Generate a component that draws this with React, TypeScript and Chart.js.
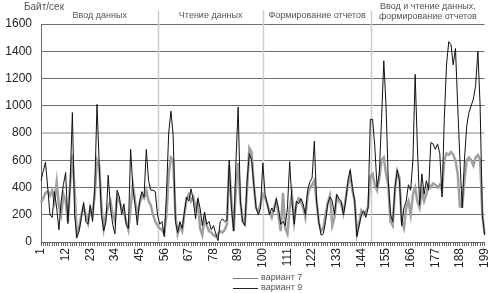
import React, { useEffect, useRef } from 'react';
import { Chart, registerables } from 'chart.js';

Chart.register(...registerables);

const CATEGORIES: string[] = Array.from({ length: 199 }, (_, i) => String(i + 1));
const TICK_LABELS = ['1', '12', '23', '34', '45', '56', '67', '78', '89', '100', '111', '122', '133', '144', '155', '166', '177', '188', '199'];
const Y_MIN = 0;
const Y_MAX = 1600;
const Y_STEP = 200;

const SERIES_NAMES = ['вариант 7', 'вариант 9'];

const VARIANT7 = [
  290, 320, 360, 370, 340, 380, 300, 440, 260, 200,
  350, 300, 150, 420, 640, 380, 60, 100, 200, 260,
  200, 140, 250, 200, 350, 600, 560, 250, 100, 200,
  260, 300, 200, 150, 340, 300, 250, 220, 150, 90,
  250, 420, 300, 200, 280, 340, 320, 380, 300, 270,
  200, 150, 120, 100, 90, 60, 200, 500, 620, 600,
  200, 60, 120, 80, 200, 320, 350, 300, 330, 250,
  300, 100, 50, 180, 120, 80, 70, 50, 40, 60,
  80, 70, 90, 130, 560, 300, 80, 400, 580, 300,
  150, 130, 400, 690, 660, 420, 250, 220, 280, 350,
  330, 280, 220, 180, 250, 300, 200, 80, 360, 100,
  60, 250, 350, 150, 280, 320, 300, 250, 180, 340,
  400, 420, 450, 300, 140, 80, 100, 200, 290, 340,
  120, 180, 330, 300, 280, 210, 320, 420, 500, 380,
  300, 60, 140, 230, 200, 220, 260, 480, 500, 420,
  380, 470, 600, 620, 500, 420, 150, 120, 380, 520,
  470, 150, 100, 250, 300, 200, 350, 400, 300, 250,
  380, 300, 350, 420, 400, 430, 420, 400, 420, 380,
  600, 650, 640, 660, 640, 600, 500, 260, 260, 450,
  600, 620, 600, 560, 620, 640, 600, 200, 60,
];

const VARIANT9 = [
  450, 520, 585, 400, 200, 180, 370, 250, 90, 300,
  420, 510, 135, 420, 950, 200, 30, 80, 180, 290,
  150, 130, 270, 150, 400, 1010, 560, 200, 80, 150,
  490, 250, 130, 60, 380, 330, 200, 280, 130, 100,
  680, 400, 270, 125, 300, 370, 330, 680, 450, 380,
  380, 370, 200, 130, 150, 40, 350, 800, 960, 780,
  150, 70, 150, 100, 220, 330, 300, 390, 300, 170,
  320, 250, 120, 220, 130, 150, 90, 120, 60, 10,
  150, 170, 150, 160, 600, 250, 80, 580, 990, 300,
  150, 120, 450, 650, 600, 420, 250, 200, 250, 580,
  350, 280, 200, 250, 220, 320, 250, 130, 150, 120,
  250, 590, 300, 130, 300, 280, 320, 280, 200, 380,
  440, 470, 740, 300, 150, 50, 60, 150, 280, 330,
  300, 200, 350, 320, 300, 200, 300, 450, 530, 400,
  300, 40, 120, 200, 230, 180, 250, 900, 900, 700,
  400, 500, 900, 1330, 1000, 450, 200, 150, 400, 530,
  450, 120, 250, 300, 420, 380, 600, 1230, 700, 270,
  500, 350, 450, 380, 730, 720, 680, 720, 650, 330,
  900, 1300, 1470, 1450, 1300, 1420, 1000, 600, 250, 600,
  850, 950, 1000, 1050, 1150, 1400, 1000, 200, 50,
];

// section boundaries as (fractional) category indexes
const SECTION_BOUNDS = [52.4, 99.1, 147.4];
const SECTION_LABELS: string[][] = [
  ['Ввод данных'],
  ['Чтение данных'],
  ['Формирование отчетов'],
  ['Ввод и чтение данных,', 'формирование отчетов'],
];
const Y_TITLE = 'Байт/сек';

const FONT = 'Arial, "Liberation Sans", sans-serif';

const overlayPlugin = {
  id: 'overlay',
  beforeDatasetsDraw(chart: any) {
    const { ctx, chartArea } = chart;
    const x = chart.scales.x;
    ctx.save();
    ctx.strokeStyle = '#cdcdcd';
    ctx.lineWidth = 1.5;
    SECTION_BOUNDS.forEach((b) => {
      const px = Math.round(x.getPixelForValue(b)) + 0.5;
      ctx.beginPath();
      ctx.moveTo(px, 10);
      ctx.lineTo(px, chartArea.bottom);
      ctx.stroke();
    });
    ctx.restore();
  },
  afterDraw(chart: any) {
    const { ctx } = chart;
    const x = chart.scales.x;
    ctx.save();
    // section labels
    ctx.font = `9px ${FONT}`;
    ctx.fillStyle = '#555';
    ctx.textAlign = 'center';
    ctx.textBaseline = 'middle';
    const edges = [0, ...SECTION_BOUNDS, CATEGORIES.length - 1];
    SECTION_LABELS.forEach((lines, i) => {
      const cx = x.getPixelForValue((edges[i] + edges[i + 1]) / 2);
      if (lines.length === 1) {
        ctx.fillText(lines[0], cx, 16);
      } else {
        lines.forEach((l, j) => ctx.fillText(l, cx, 7 + j * 10));
      }
    });
    // y title
    ctx.font = `10px ${FONT}`;
    ctx.fillStyle = '#555';
    ctx.textAlign = 'left';
    ctx.fillText(Y_TITLE, 24, 7);
    // legend
    const colors = ['#7a7a7a', '#222'];
    const ys = [278, 288];
    ctx.font = `9px ${FONT}`;
    SERIES_NAMES.forEach((name, i) => {
      ctx.strokeStyle = colors[i];
      ctx.lineWidth = 1;
      ctx.beginPath();
      ctx.moveTo(233, ys[i] + 0.5);
      ctx.lineTo(258, ys[i] + 0.5);
      ctx.stroke();
      ctx.fillStyle = '#555';
      ctx.fillText(name, 261, ys[i]);
    });
    ctx.restore();
  },
};

export default function App() {
  const ref = useRef<HTMLCanvasElement>(null);
  useEffect(() => {
    if (!ref.current) return;
    const chart = new Chart(ref.current, {
      type: 'line',
      data: {
        labels: CATEGORIES,
        datasets: [
          {
            label: SERIES_NAMES[0],
            data: VARIANT7,
            borderColor: '#a0a0a0',
            borderWidth: 2.5,
            pointRadius: 0,
            tension: 0,
            order: 2,
          },
          {
            label: SERIES_NAMES[1],
            data: VARIANT9,
            borderColor: '#111',
            borderWidth: 1,
            pointRadius: 0,
            tension: 0,
            order: 1,
          },
        ],
      },
      options: {
        animation: false,
        responsive: false,
        maintainAspectRatio: false,
        layout: { padding: { top: 24, right: 10, left: 0, bottom: 0 } },
        plugins: { legend: { display: false }, tooltip: { enabled: false } },
        scales: {
          x: {
            type: 'category',
            offset: false,
            grid: { drawOnChartArea: false, drawTicks: true, tickLength: 4, color: '#666' },
            border: { display: true, color: '#666' },
            ticks: {
              autoSkip: false,
              maxRotation: 90,
              minRotation: 90,
              padding: 2,
              color: '#222',
              font: { family: FONT, size: 12 },
              callback: (_v: any, i: number) => (TICK_LABELS.includes(CATEGORIES[i]) ? CATEGORIES[i] : ''),
            },
            afterFit: (s: any) => {
              s.height = 51;
            },
          },
          y: {
            min: Y_MIN,
            max: Y_MAX,
            ticks: {
              stepSize: Y_STEP,
              padding: 9,
              color: '#222',
              font: { family: FONT, size: 12 },
              callback: (v: any) => String(v),
            },
            grid: {
              drawTicks: false,
              color: (c: any) => (c.tick && c.tick.value === 800 ? '#c4c4c4' : '#6e6e6e'),
              lineWidth: (c: any) => (c.tick && c.tick.value === 800 ? 2 : 1),
            },
            border: { display: true, color: '#666' },
            afterFit: (s: any) => {
              s.width = 41;
            },
          },
        },
      },
      plugins: [overlayPlugin],
    });
    return () => chart.destroy();
  }, []);
  return (
    <div style={{ position: 'absolute', left: 0, top: 0, width: 501, height: 293, background: '#fff' }}>
      <canvas ref={ref} width={501} height={293} style={{ display: 'block' }} />
    </div>
  );
}
